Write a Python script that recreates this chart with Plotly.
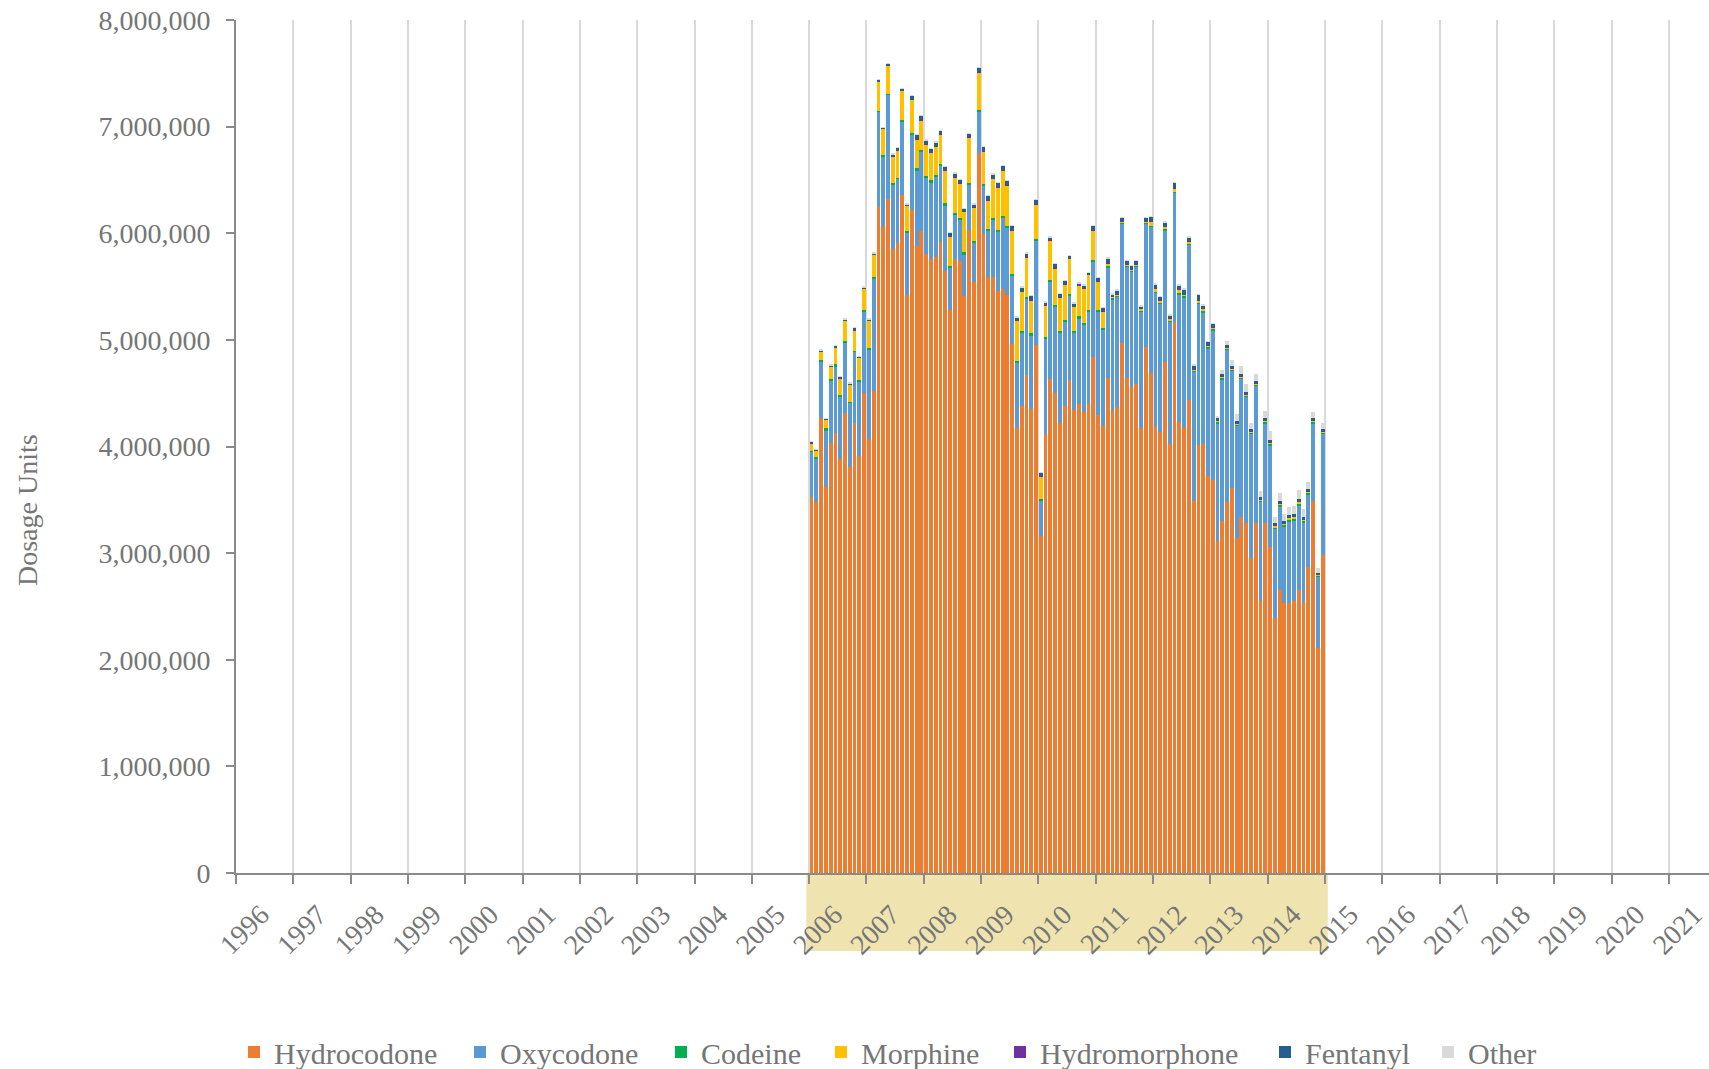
import plotly.graph_objects as go

# ---------------- data (dosage units, monthly Jan 2006 - Dec 2014) ----------------
years = list(range(2006, 2015))
month_labels = [f"{y}-{m:02d}" for y in years for m in range(1, 13)]

hydrocodone = [
    3530000, 3480000, 4270000, 3620000, 4030000, 4130000, 3880000, 4310000, 3810000, 4220000, 3910000, 4500000,
    4070000, 4520000, 6250000, 6060000, 6320000, 5850000, 5910000, 6360000, 5420000, 6220000, 5880000, 6020000,
    5810000, 5760000, 5780000, 5920000, 5650000, 5280000, 5760000, 5740000, 5410000, 6030000, 5540000, 6750000,
    5990000, 5590000, 5590000, 5460000, 5480000, 5420000, 4960000, 4170000, 4380000, 4670000, 4350000, 4950000,
    3160000, 4120000, 4630000, 4500000, 4220000, 4380000, 4620000, 4340000, 4400000, 4320000, 4400000, 4840000,
    4300000, 4190000, 4640000, 4330000, 4370000, 4970000, 4640000, 4560000, 4590000, 4170000, 4930000, 4690000,
    4180000, 4140000, 4790000, 4020000, 5170000, 4230000, 4170000, 4440000, 3490000, 4010000, 4020000, 3720000,
    3690000, 3110000, 3300000, 3480000, 3610000, 3140000, 3340000, 3280000, 2950000, 3280000, 2550000, 3280000,
    3060000, 2390000, 2650000, 2530000, 2530000, 2550000, 2650000, 2530000, 2870000, 3490000, 2110000, 2980000,
]
oxycodone = [
    420000, 410000, 530000, 530000, 590000, 620000, 590000, 670000, 600000, 670000, 700000, 770000,
    840000, 1060000, 890000, 660000, 980000, 610000, 600000, 690000, 590000, 700000, 700000, 740000,
    710000, 710000, 750000, 710000, 610000, 390000, 410000, 380000, 390000, 420000, 370000, 390000,
    450000, 430000, 530000, 550000, 660000, 630000, 640000, 610000, 680000, 710000, 690000, 980000,
    330000, 890000, 910000, 810000, 840000, 790000, 790000, 720000, 800000, 820000, 860000, 890000,
    960000, 900000, 1040000, 1050000, 1040000, 1120000, 1050000, 1080000, 1100000, 1100000, 1160000, 1370000,
    1260000, 1200000, 1240000, 1150000, 1210000, 1200000, 1230000, 1450000, 1210000, 1330000, 1240000, 1200000,
    1400000, 1110000, 1330000, 1430000, 1100000, 1060000, 1300000, 1190000, 1170000, 1290000, 930000, 940000,
    950000, 840000, 780000, 720000, 770000, 760000, 800000, 760000, 680000, 730000, 670000, 1140000,
]
codeine = [
    10000, 10000, 10000, 20000, 10000, 20000, 10000, 10000, 10000, 10000, 10000, 10000,
    10000, 10000, 10000, 10000, 10000, 10000, 10000, 10000, 10000, 20000, 30000, 20000,
    20000, 30000, 20000, 20000, 20000, 20000, 20000, 20000, 20000, 20000, 20000, 20000,
    20000, 20000, 20000, 20000, 20000, 20000, 20000, 20000, 20000, 20000, 20000, 20000,
    20000, 20000, 20000, 20000, 20000, 20000, 20000, 20000, 20000, 20000, 20000, 20000,
    20000, 20000, 15000, 15000, 10000, 10000, 10000, 10000, 10000, 10000, 10000, 10000,
    10000, 10000, 10000, 10000, 10000, 10000, 10000, 10000, 10000, 10000, 10000, 10000,
    10000, 10000, 10000, 10000, 10000, 10000, 10000, 10000, 10000, 10000, 10000, 10000,
    10000, 10000, 20000, 10000, 10000, 10000, 10000, 10000, 10000, 10000, 10000, 10000,
]
morphine = [
    70000, 60000, 80000, 80000, 120000, 160000, 160000, 190000, 160000, 190000, 210000, 200000,
    260000, 210000, 270000, 250000, 260000, 250000, 260000, 280000, 240000, 310000, 270000, 280000,
    290000, 260000, 260000, 280000, 310000, 280000, 330000, 330000, 380000, 430000, 310000, 350000,
    310000, 270000, 370000, 400000, 430000, 380000, 410000, 380000, 370000, 370000, 310000, 320000,
    210000, 290000, 370000, 340000, 320000, 330000, 330000, 230000, 290000, 320000, 330000, 280000,
    270000, 160000, 25000, 10000, 10000, 10000, 10000, 10000, 10000, 10000, 10000, 40000,
    30000, 20000, 20000, 20000, 30000, 30000, 20000, 20000, 10000, 20000, 20000, 20000,
    20000, 10000, 20000, 10000, 10000, 10000, 10000, 10000, 10000, 10000, 10000, 10000,
    20000, 20000, 20000, 20000, 20000, 20000, 20000, 20000, 20000, 10000, 10000, 10000,
]
hydromorphone = [3000] * 108
fentanyl = [
    10000, 10000, 10000, 10000, 10000, 10000, 10000, 10000, 10000, 20000, 10000, 10000,
    10000, 10000, 20000, 10000, 20000, 20000, 20000, 10000, 10000, 40000, 40000, 40000,
    40000, 30000, 40000, 30000, 30000, 30000, 40000, 30000, 30000, 30000, 30000, 40000,
    40000, 40000, 40000, 40000, 40000, 40000, 40000, 30000, 40000, 40000, 40000, 40000,
    30000, 30000, 30000, 40000, 30000, 30000, 30000, 30000, 20000, 30000, 20000, 40000,
    30000, 30000, 40000, 20000, 30000, 30000, 30000, 30000, 30000, 20000, 30000, 40000,
    40000, 30000, 40000, 30000, 50000, 40000, 40000, 40000, 40000, 50000, 30000, 30000,
    30000, 30000, 20000, 20000, 20000, 20000, 20000, 20000, 20000, 20000, 20000, 20000,
    20000, 20000, 20000, 20000, 20000, 20000, 20000, 20000, 20000, 20000, 10000, 20000,
]
other = [
    3000, 3000, 3000, 3000, 3000, 3000, 3000, 3000, 3000, 3000, 3000, 3000,
    3000, 3000, 3000, 3000, 3000, 3000, 3000, 3000, 3000, 3000, 3000, 3000,
    3000, 3000, 3000, 3000, 3000, 3000, 3000, 3000, 3000, 3000, 3000, 3000,
    3000, 3000, 3000, 3000, 3000, 3000, 3000, 3000, 3000, 3000, 3000, 3000,
    3000, 3000, 3000, 3000, 3000, 3000, 3000, 3000, 3000, 3000, 3000, 3000,
    5000, 5000, 5000, 5000, 5000, 5000, 5000, 5000, 5000, 5000, 5000, 5000,
    5000, 5000, 5000, 5000, 5000, 5000, 5000, 5000, 5000, 5000, 5000, 5000,
    5000, 5000, 30000, 40000, 60000, 60000, 70000, 70000, 60000, 70000, 60000, 70000,
    80000, 60000, 70000, 60000, 80000, 80000, 90000, 70000, 60000, 60000, 50000, 60000,
]

series_names = ["Hydrocodone", "Oxycodone", "Codeine", "Morphine", "Hydromorphone", "Fentanyl", "Other"]
series_values = [hydrocodone, oxycodone, codeine, morphine, hydromorphone, fentanyl, other]
series_colors = ["#ED7D31", "#5B9BD5", "#00B050", "#FFC000", "#7030A0", "#255E91", "#D9D9D9"]

x_years = list(range(1996, 2022))
y_ticks = list(range(0, 8000001, 1000000))

# month label -> decimal year at middle of month
x_pos = [int(s[:4]) + (int(s[5:]) - 0.5) / 12 for s in month_labels]

FONT = "Liberation Serif"
GRAY = "#767676"
AXIS = "#8a8a8a"

# figure geometry (pixels); page body margin is removed in post_script
W, H = 1709, 1069
ML, MR, MT, MB = 236, 0, 20, 196
PW = W - ML - MR
PH = H - MT - MB

# left edge (px) of each legend entry, matching the reference layout
legend_left_px = [234, 460, 661, 821, 1000, 1265, 1428]
legend_center_y = 1052

fig = go.Figure()
legend_layouts = {}
for i, (name, vals, col) in enumerate(zip(series_names, series_values, series_colors)):
    lname = "legend" if i == 0 else f"legend{i + 1}"
    fig.add_trace(go.Bar(
        x=x_pos, y=vals, name=name, width=0.8 / 12,
        marker=dict(color=col, line=dict(width=0)),
        customdata=month_labels, legend=lname,
        hovertemplate="%{customdata}<br>" + name + ": %{y:,}<extra></extra>",
    ))
    legend_layouts[lname] = dict(
        orientation="h", x=(legend_left_px[i] - ML) / PW, xanchor="left",
        y=(MT + PH - legend_center_y) / PH, yanchor="middle",
        font=dict(family=FONT, size=30, color=GRAY),
        itemwidth=30, bgcolor="rgba(0,0,0,0)", borderwidth=0,
    )

fig.add_shape(type="rect", xref="x", yref="paper",
              x0=2005.95, x1=2015.05, y0=-78 / PH, y1=0,
              fillcolor="#EFE4B0", line=dict(width=0), layer="below")

fig.add_annotation(text="Dosage Units", xref="paper", yref="paper",
                   x=(27 - ML) / PW, y=(MT + PH - 510) / PH, textangle=-90, showarrow=False,
                   xanchor="center", yanchor="middle",
                   font=dict(family=FONT, size=28, color=GRAY))

fig.update_layout(
    width=W, height=H,
    margin=dict(l=ML, r=MR, t=MT, b=MB, autoexpand=False),
    paper_bgcolor="white", plot_bgcolor="white",
    barmode="stack", bargap=0,
    font=dict(family=FONT, size=28, color=GRAY),
    showlegend=True,
    xaxis=dict(
        range=[1996, 2021.7], tickmode="array", tickvals=x_years,
        ticktext=[str(v) for v in x_years], tickangle=-45,
        showgrid=True, gridcolor="#D9D9D9", gridwidth=2,
        showline=True, linecolor=AXIS, linewidth=2,
        ticks="outside", ticklen=9, tickwidth=2, tickcolor=AXIS,
        tickfont=dict(family=FONT, size=28, color=GRAY),
        ticklabelshift=25, ticklabelstandoff=3, ticklabeloverflow="allow",
        zeroline=False, fixedrange=True, automargin=False,
    ),
    yaxis=dict(
        range=[0, 8000000], tickmode="array", tickvals=y_ticks,
        tickformat=",", showgrid=False,
        showline=True, linecolor=AXIS, linewidth=2,
        ticks="outside", ticklen=8, tickwidth=2, tickcolor=AXIS,
        tickfont=dict(family=FONT, size=28, color=GRAY),
        ticklabelstandoff=10, ticklabeloverflow="allow",
        zeroline=False, fixedrange=True, automargin=False,
    ),
    **legend_layouts,
)

fig.write_html(
    "out.html",
    config={"displayModeBar": False},
    post_script=(
        "document.body.style.margin='0';"
        "document.documentElement.style.overflow='hidden';"
        "document.body.style.overflow='hidden';"
    ),
)
